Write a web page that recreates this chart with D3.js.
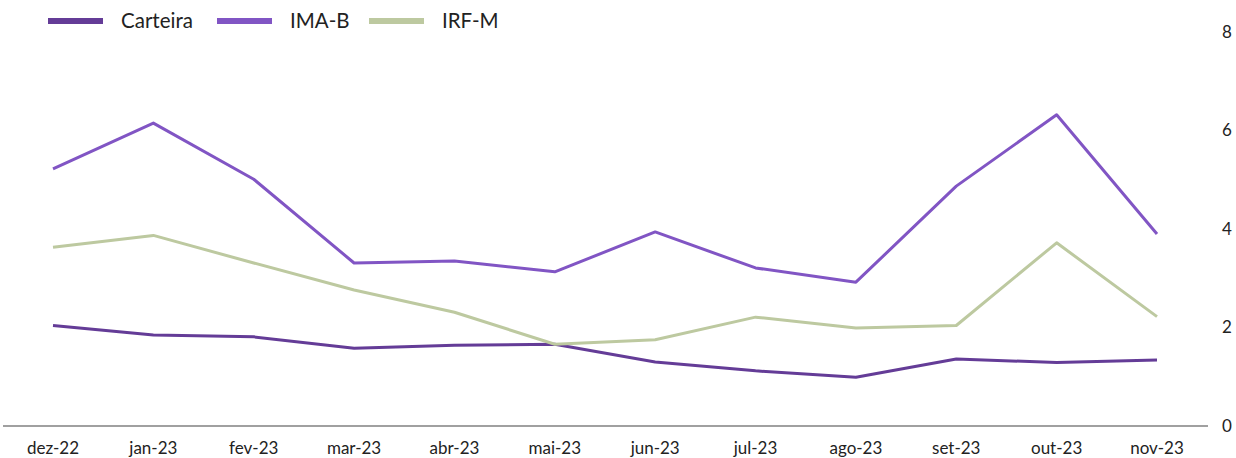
<!DOCTYPE html>
<html>
<head>
<meta charset="utf-8">
<script src="https://cdn.jsdelivr.net/npm/d3@7"></script>
<style>
  body { margin: 0; background: #fff; }
  svg { font-family: Lato, sans-serif; }
</style>
</head>
<body>
<div id="chart"></div>
<script>
const months = ["dez-22", "jan-23", "fev-23", "mar-23", "abr-23", "mai-23",
  "jun-23", "jul-23", "ago-23", "set-23", "out-23", "nov-23"];
const carteira = [2.04, 1.85, 1.81, 1.58, 1.64, 1.66, 1.30, 1.12, 0.99, 1.36, 1.29, 1.34];
const imaB = [5.22, 6.15, 5.01, 3.31, 3.35, 3.13, 3.94, 3.21, 2.92, 4.87, 6.32, 3.90];
const irfM = [3.63, 3.87, 3.31, 2.76, 2.31, 1.66, 1.75, 2.21, 1.99, 2.04, 3.72, 2.22];
const yTicks = [0, 2, 4, 6, 8];

const series = [
  { name: "Carteira", values: carteira, color: "#643c97" },
  { name: "IMA-B", values: imaB, color: "#8155c4" },
  { name: "IRF-M", values: irfM, color: "#bdc9a0" },
];

const width = 1236;
const height = 458;

const svg = d3
  .select("#chart")
  .append("svg")
  .attr("width", width)
  .attr("height", height);

const x = d3.scalePoint().domain(months).range([53, 1157]);
const y = d3.scaleLinear().domain([0, 8]).range([426, 32]);

// baseline
svg
  .append("line")
  .attr("x1", 3)
  .attr("x2", 1208)
  .attr("y1", y(0))
  .attr("y2", y(0))
  .attr("stroke", "#808080")
  .attr("stroke-width", 1.5);

// x labels
svg
  .append("g")
  .selectAll("text")
  .data(months)
  .enter()
  .append("text")
  .attr("x", (d) => x(d))
  .attr("y", 454)
  .attr("text-anchor", "middle")
  .attr("font-size", 17)
  .attr("fill", "#222")
  .text((d) => d);

// y labels on the right
svg
  .append("g")
  .selectAll("text")
  .data(yTicks)
  .enter()
  .append("text")
  .attr("x", 1222)
  .attr("y", (d) => y(d))
  .attr("dy", "0.35em")
  .attr("font-size", 17)
  .attr("fill", "#222")
  .text((d) => d);

const line = d3
  .line()
  .x((d, i) => x(months[i]))
  .y((d) => y(d));

svg
  .append("g")
  .selectAll("path")
  .data(series)
  .enter()
  .append("path")
  .attr("fill", "none")
  .attr("stroke", (d) => d.color)
  .attr("stroke-width", 3)
  .attr("stroke-linejoin", "round")
  .attr("d", (d) => line(d.values));

// legend
const legendX = [48, 217, 369];
const legend = svg
  .append("g")
  .selectAll("g")
  .data(series)
  .enter()
  .append("g")
  .attr("transform", (d, i) => `translate(${legendX[i]},21)`);

legend
  .append("rect")
  .attr("x", 0)
  .attr("y", -3)
  .attr("width", 55)
  .attr("height", 6)
  .attr("fill", (d) => d.color);

legend
  .append("text")
  .attr("x", 73)
  .attr("y", 0)
  .attr("dy", "0.35em")
  .attr("font-size", 20.5)
  .attr("fill", "#222")
  .text((d) => d.name);
</script>
</body>
</html>
